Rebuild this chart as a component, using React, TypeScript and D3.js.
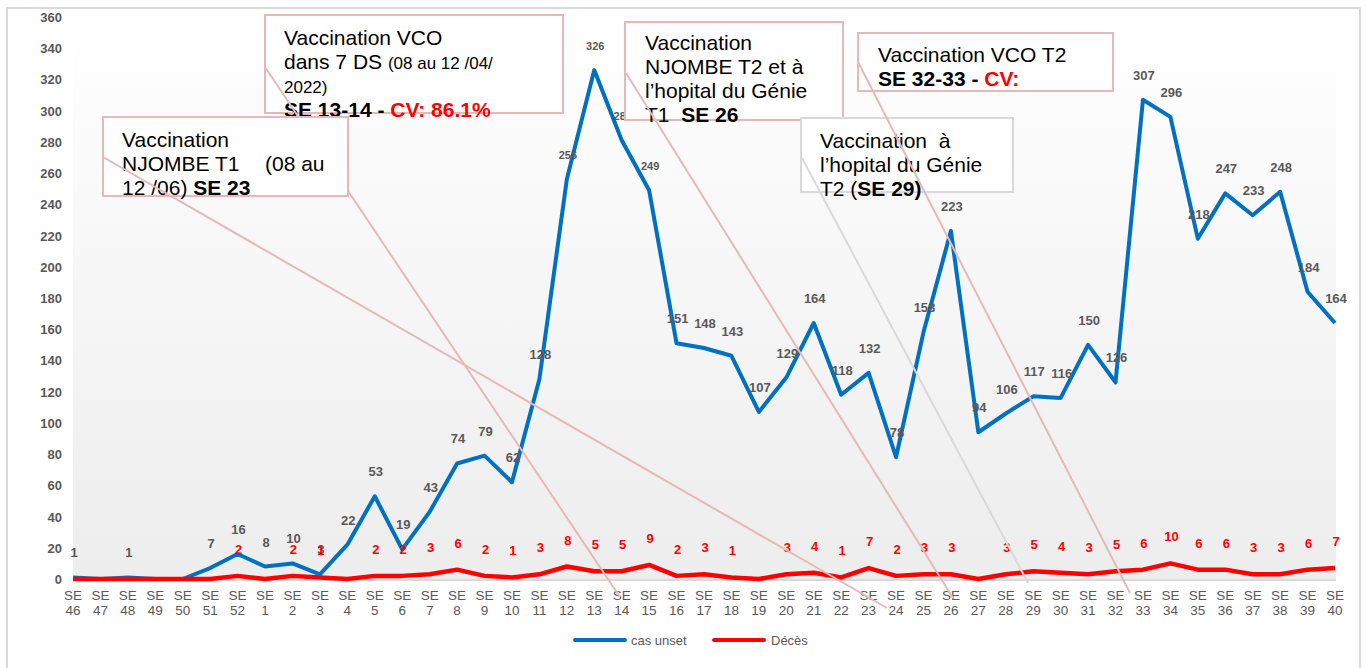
import { useEffect } from 'react'
import * as d3 from 'd3'

// Semaines épidémiologiques (SE 46 -> SE 52 puis SE 1 -> SE 40)
const weeks = [
  '46', '47', '48', '49', '50', '51', '52',
  '1', '2', '3', '4', '5', '6', '7', '8', '9', '10',
  '11', '12', '13', '14', '15', '16', '17', '18', '19', '20',
  '21', '22', '23', '24', '25', '26', '27', '28', '29', '30',
  '31', '32', '33', '34', '35', '36', '37', '38', '39', '40',
]

// cas unset
const casValues = [
  1, 0, 1, 0, 0, 7, 16,
  8, 10, 3, 22, 53, 19, 43, 74, 79, 62,
  128, 256, 326, 281, 249, 151, 148, 143, 107, 129,
  164, 118, 132, 78, 158, 223, 94, 106, 117, 116,
  150, 126, 307, 296, 218, 247, 233, 248, 184, 164,
]

// Décès
const decesValues = [
  0, 0, 0, 0, 0, 0, 2,
  0, 2, 1, 0, 2, 2, 3, 6, 2, 1,
  3, 8, 5, 5, 9, 2, 3, 1, 0, 3,
  4, 1, 7, 2, 3, 3, 0, 3, 5, 4,
  3, 5, 6, 10, 6, 6, 3, 3, 6, 7,
]

const seriesNames = ['cas unset', 'Décès']

const FONT = "'Liberation Sans', Arial, sans-serif"
const BLUE = '#0070c0'
const RED = '#ff0000'
const GREY_TXT = '#595959'
const PINK = '#e6b9b8'

const width = 1366
const height = 668
const plot = { left: 73, right: 1335, top: 17, bottom: 579 }

// labels drawn smaller around the peak (style only)
const smallLabelWeeks = ['12', '13', '14', '15']

// Callout boxes (layout only)
const callouts = [
  {
    box: [265, 15, 563, 113], stroke: PINK,
    line: [265, 67, 620, 597],
    lines: [
      [{ t: 'Vaccination VCO' }],
      [{ t: 'dans 7 DS ' }, { t: '(08 au 12 /04/', small: true }],
      [{ t: '2022)', small: true }],
      [{ t: 'SE 13-14 - ', b: true }, { t: 'CV: 86.1%', b: true, red: true }],
    ],
    tx: 284, ty: 45,
  },
  {
    box: [103, 117, 348, 196], stroke: PINK,
    line: [103, 157, 887, 608],
    lines: [
      [{ t: 'Vaccination' }],
      [{ t: 'NJOMBE T1' }, { t: '(08 au', x: 265 }],
      [{ t: '12 /06) ' }, { t: 'SE 23', b: true }],
    ],
    tx: 122, ty: 147,
  },
  {
    box: [625, 22, 843, 120], stroke: PINK,
    line: [626, 73, 953, 598],
    lines: [
      [{ t: 'Vaccination' }],
      [{ t: 'NJOMBE T2 et à' }],
      [{ t: 'l’hopital du Génie' }],
      [{ t: 'T1  ' }, { t: 'SE 26', b: true }],
    ],
    tx: 645, ty: 50,
  },
  {
    box: [801, 118, 1013, 192], stroke: '#d9d9d9',
    line: [802, 158, 1028, 583],
    lines: [
      [{ t: 'Vaccination  à' }],
      [{ t: 'l’hopital du Génie' }],
      [{ t: 'T2 (' }, { t: 'SE 29)', b: true }],
    ],
    tx: 820, ty: 148,
  },
  {
    box: [858, 33, 1113, 91], stroke: PINK,
    line: [858, 62, 1130, 593],
    lines: [
      [{ t: 'Vaccination VCO T2' }],
      [{ t: 'SE 32-33 - ', b: true }, { t: 'CV:', b: true, red: true }],
    ],
    tx: 878, ty: 62,
  },
]

const App = () => {
  useEffect(() => {
    document.body.style.margin = '0'
  }, [])

  const x = d3.scalePoint<string>().domain(weeks).range([plot.left, plot.right])
  const y = d3.scaleLinear().domain([0, 360]).range([plot.bottom, plot.top])
  const yTicks = y.ticks(18)

  const line = d3
    .line<number>()
    .x((_, i) => x(weeks[i]) as number)
    .y((d) => y(d))

  return (
    <svg width={width} height={height} style={{ position: 'absolute', left: 0, top: 0, fontFamily: FONT }}>
      <defs>
        <linearGradient id="plot-bg" x1="0" y1="0" x2="0" y2="1">
          <stop offset="0%" stopColor="#ffffff" />
          <stop offset="100%" stopColor="#ededed" />
        </linearGradient>
      </defs>
      <rect x={0} y={0} width={width} height={height} fill="#fff" />
      <rect x={7} y={8} width={1353} height={670} fill="#fff" stroke="#d9d9d9" strokeWidth={2} />
      <rect x={plot.left} y={plot.top} width={plot.right - plot.left + 1} height={plot.bottom - plot.top} fill="url(#plot-bg)" />
      <line x1={plot.left} x2={plot.right + 1} y1={plot.bottom + 1} y2={plot.bottom + 1} stroke="#d9d9d9" strokeWidth={2} />

      {/* Y axis labels */}
      {yTicks.map((t) => (
        <text key={t} x={62} y={y(t) + 5} textAnchor="end" fontSize={13} fontWeight="bold" fill={GREY_TXT}>
          {t}
        </text>
      ))}

      {/* X axis labels */}
      {weeks.map((w) => (
        <text key={w} textAnchor="middle" fontSize={13.5} fill={GREY_TXT}>
          <tspan x={x(w)} y={600}>SE</tspan>
          <tspan x={x(w)} y={615}>{w}</tspan>
        </text>
      ))}

      {/* Series */}
      <path d={line(casValues) ?? ''} fill="none" stroke={BLUE} strokeWidth={4} strokeLinejoin="round" />
      <path d={line(decesValues) ?? ''} fill="none" stroke={RED} strokeWidth={4.5} strokeLinejoin="round" />

      {/* Data labels */}
      {casValues.map((v, i) =>
        v > 0 ? (
          <text
            key={'c' + i}
            x={(x(weeks[i]) as number) + 1}
            y={y(v) - 20}
            textAnchor="middle"
            fontSize={smallLabelWeeks.includes(weeks[i]) ? 11 : 13}
            fontWeight="bold"
            fill={GREY_TXT}
          >
            {v}
          </text>
        ) : null
      )}
      {decesValues.map((v, i) =>
        v > 0 ? (
          <text key={'d' + i} x={(x(weeks[i]) as number) + 1} y={y(v) - 22} textAnchor="middle" fontSize={13} fontWeight="bold" fill={RED}>
            {v}
          </text>
        ) : null
      )}

      {/* Callouts */}
      {callouts.map((c, k) => (
        <g key={'co' + k}>
          <rect x={c.box[0]} y={c.box[1]} width={c.box[2] - c.box[0]} height={c.box[3] - c.box[1]} fill="#fff" stroke={c.stroke} strokeWidth={2} />
          {c.lines.map((parts, li) => (
            <text key={li} x={c.tx} y={c.ty + li * 24} fontSize={21} fill="#000" style={{ whiteSpace: 'pre' }}>
              {parts.map((p: any, pi: number) => (
                <tspan
                  key={pi}
                  x={p.x}
                  fontSize={p.small ? 17 : 21}
                  fontWeight={p.b ? 'bold' : 'normal'}
                  fill={p.red ? RED : '#000'}
                >
                  {p.t}
                </tspan>
              ))}
            </text>
          ))}
          <line x1={c.line[0]} y1={c.line[1]} x2={c.line[2]} y2={c.line[3]} stroke={c.stroke} strokeWidth={2} />
        </g>
      ))}

      {/* Legend */}
      <line x1={575} x2={625} y1={640} y2={640} stroke={BLUE} strokeWidth={4} strokeLinecap="round" />
      <text x={631} y={645} fontSize={13} fill={GREY_TXT}>{seriesNames[0]}</text>
      <line x1={714} x2={764} y1={640} y2={640} stroke={RED} strokeWidth={4} strokeLinecap="round" />
      <text x={771} y={645} fontSize={13} fill={GREY_TXT}>{seriesNames[1]}</text>
    </svg>
  )
}

export default App
